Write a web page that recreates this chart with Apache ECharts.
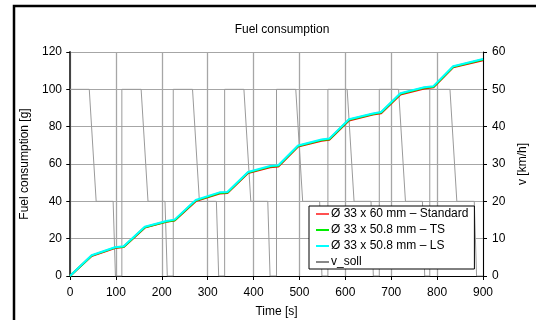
<!DOCTYPE html>
<html>
<head>
<meta charset="utf-8">
<script src="https://cdn.jsdelivr.net/npm/echarts@6/dist/echarts.min.js"></script>
<style>
html, body { margin: 0; padding: 0; background: #fff; }
#main { width: 536px; height: 320px; }
</style>
</head>
<body>
<div id="main"></div>
<script>
// fuel consumption curves [s] / [g]
var fuelTime = [0, 47, 98, 117, 163, 210, 228, 274, 326, 343, 388, 436, 454, 497, 548, 565, 608, 660, 678, 720, 772, 792, 835, 900];
var fuelStd = [0, 10.7, 15.0, 15.5, 25.9, 29.0, 29.7, 40.1, 44.2, 44.4, 55.1, 58.3, 58.7, 69.3, 72.5, 73.0, 83.3, 86.5, 87.2, 97.2, 100.4, 101.1, 111.8, 115.6];
var fuelTS = [0, 10.9, 15.2, 15.7, 26.1, 29.2, 29.9, 40.4, 44.5, 44.7, 55.4, 58.6, 59.0, 69.6, 72.8, 73.3, 83.7, 86.8, 87.6, 97.6, 100.8, 101.4, 112.1, 116.0];
var fuelLS = [0, 11.1, 15.4, 15.9, 26.4, 29.5, 30.2, 40.7, 44.8, 45.0, 55.7, 58.9, 59.3, 69.9, 73.1, 73.6, 84.0, 87.1, 87.9, 97.9, 101.1, 101.7, 112.4, 116.3];

// driving cycle v_soll [s] / [km/h]
var vTime = [0, 42, 57, 94, 99, 113,
  113, 155, 170, 207, 212, 225,
  225, 267, 282, 319, 324, 337,
  337, 379, 394, 431, 436, 450,
  450, 492, 507, 544, 549, 562,
  562, 604, 619, 656, 661, 674,
  674, 716, 731, 768, 773, 784,
  784, 828, 843, 881, 886, 900];
var vSoll = [50, 50, 20, 20, 0, 0,
  50, 50, 20, 20, 0, 0,
  50, 50, 20, 20, 0, 0,
  50, 50, 20, 20, 0, 0,
  50, 50, 20, 20, 0, 0,
  50, 50, 20, 20, 0, 0,
  50, 50, 20, 20, 0, 0,
  50, 50, 20, 20, 0, 0];

var seriesNames = ['Ø 33 x 60 mm – Standard', 'Ø 33 x 50.8 mm – TS', 'Ø 33 x 50.8 mm – LS', 'v_soll'];

function pairs(xs, ys) {
  var out = [];
  for (var i = 0; i < xs.length; i++) out.push([xs[i], ys[i]]);
  return out;
}

var font = 'Liberation Sans, Arial, sans-serif';
var txt = { fontFamily: font, fontSize: 12, color: '#000' };
var chart = echarts.init(document.getElementById('main'), null, { renderer: 'canvas' });

var option = {
  animation: false,
  backgroundColor: '#fff',
  textStyle: txt,
  title: {
    text: 'Fuel consumption',
    left: 277, top: 19, textAlign: 'center',
    textStyle: { fontFamily: font, fontSize: 12, fontWeight: 'normal', color: '#000' }
  },
  graphic: [{
    type: 'rect', z: 100, silent: true,
    shape: { x: 14, y: 6, width: 540, height: 330 },
    style: { fill: 'none', stroke: '#000', lineWidth: 2.5 }
  }],
  grid: { left: 70, right: 53, top: 52, bottom: 44, containLabel: false, outerBoundsMode: 'none' },
  legend: {
    data: seriesNames,
    orient: 'vertical',
    left: 309, top: 206,
    backgroundColor: '#fff',
    borderColor: '#000', borderWidth: 1,
    padding: [1, 6, 0, 7],
    itemGap: 2,
    itemWidth: 13, itemHeight: 2,
    icon: 'rect',
    itemStyle: { borderWidth: 0 },
    textStyle: { fontFamily: font, fontSize: 12, color: '#000', lineHeight: 14, padding: [0, 0, 0, -3] }
  },
  xAxis: {
    type: 'value', min: 0, max: 900, interval: 100,
    name: 'Time [s]', nameLocation: 'middle', nameGap: 30,
    nameTextStyle: txt,
    axisLine: { onZero: false, lineStyle: { color: '#000', width: 1 } },
    axisTick: { show: true, length: 4, lineStyle: { color: '#000' } },
    axisLabel: { margin: 11, fontFamily: font, fontSize: 12, color: '#000' },
    splitLine: { show: true, lineStyle: { color: '#a6a6a6', width: 1.3 } }
  },
  yAxis: [{
    type: 'value', min: 0, max: 120, interval: 20,
    name: 'Fuel consumption [g]', nameLocation: 'middle', nameGap: 35,
    nameTextStyle: txt,
    axisLine: { show: true, onZero: false, lineStyle: { color: '#444', width: 2 } },
    axisTick: { show: true, length: 4, lineStyle: { color: '#444' } },
    axisLabel: { margin: 8, fontFamily: font, fontSize: 12, color: '#000' },
    splitLine: { show: true, lineStyle: { color: '#a6a6a6', width: 1 } }
  }, {
    type: 'value', min: 0, max: 60, interval: 10, position: 'right',
    name: 'v [km/h]', nameLocation: 'middle', nameGap: 28,
    nameTextStyle: txt,
    axisLine: { show: true, onZero: false, lineStyle: { color: '#000', width: 1 } },
    axisTick: { show: true, length: 4, lineStyle: { color: '#000' } },
    axisLabel: { margin: 9, fontFamily: font, fontSize: 12, color: '#000' },
    splitLine: { show: false }
  }, {
    // inner half of the crossing ticks on the right axis
    type: 'value', min: 0, max: 60, interval: 10, position: 'right',
    axisLine: { show: false },
    axisTick: { show: true, inside: true, length: 3, lineStyle: { color: '#000' } },
    axisLabel: { show: false },
    splitLine: { show: false }
  }],
  series: [{
    name: seriesNames[0], type: 'line', yAxisIndex: 0, z: 3,
    data: pairs(fuelTime, fuelStd), showSymbol: false,
    lineStyle: { color: '#ff0000', width: 2 }, itemStyle: { color: '#ff5050' }
  }, {
    name: seriesNames[1], type: 'line', yAxisIndex: 0, z: 4,
    data: pairs(fuelTime, fuelTS), showSymbol: false,
    lineStyle: { color: '#00ee00', width: 2 }, itemStyle: { color: '#00ee00' }
  }, {
    name: seriesNames[2], type: 'line', yAxisIndex: 0, z: 5,
    data: pairs(fuelTime, fuelLS), showSymbol: false,
    lineStyle: { color: '#00ffff', width: 2 }, itemStyle: { color: '#00ffff' }
  }, {
    name: seriesNames[3], type: 'line', yAxisIndex: 1, z: 2,
    data: pairs(vTime, vSoll), showSymbol: false,
    lineStyle: { color: '#9a9a9a', width: 1 }, itemStyle: { color: '#888' }
  }]
};
chart.setOption(option);
</script>
</body>
</html>
